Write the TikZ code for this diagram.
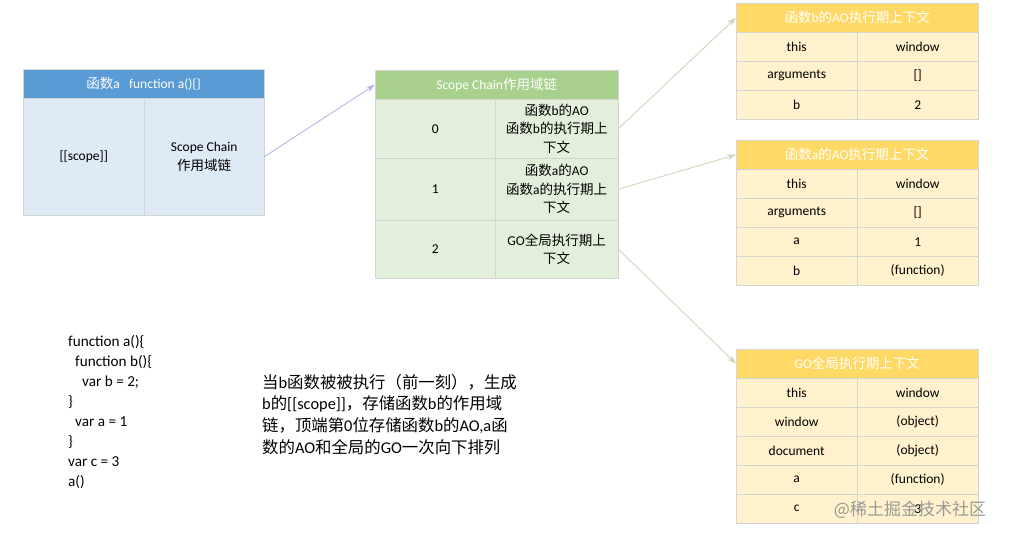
\documentclass[tikz,border=0pt]{standalone}
\usepackage{fontspec}
\setmainfont{Carlito}
\newfontfamily\cjk{Noto Sans CJK SC}
\newcommand\zh[1]{{\cjk #1}}
\usetikzlibrary{arrows.meta}

\definecolor{blueHd}{HTML}{5B9BD5}
\definecolor{blueBg}{HTML}{DEEAF6}
\definecolor{greenHd}{HTML}{A9D18E}
\definecolor{greenBg}{HTML}{E2EFDA}
\definecolor{yellowHd}{HTML}{FFD966}
\definecolor{yellowBg}{HTML}{FFF2CC}
\definecolor{arrPurple}{HTML}{B4B6E6}
\definecolor{arrGreen}{HTML}{C9D9B9}

\tikzset{
  cell/.style={draw=black!17, anchor=north west, inner sep=0pt, align=center,
    font=\fontsize{13.5}{18.5}\selectfont, minimum width=121pt, minimum height=29pt},
  hdr/.style={cell, text=white, minimum width=242pt},
  link/.style={-{Stealth[length=9pt,width=6pt]}, line width=0.9pt}
}

\begin{document}
\begin{tikzpicture}[x=1pt,y=-1pt]
  \useasboundingbox (0,0) rectangle (1009,538);

  % Fonction a
  \node[hdr, fill=blueHd, minimum width=241pt] (fnA) at (23,69) {\zh{函数}a\ \ \ function a()\{\}};
  \node[cell, fill=blueBg, minimum height=117pt] (fnAScope) at (23,98) {[[scope]]};
  \node[cell, fill=blueBg, minimum width=120pt, minimum height=117pt] (fnAChain) at (144,98) {Scope Chain\\\zh{作用域链}};

  % Chaine de portee
  \node[hdr, fill=greenHd, minimum width=243pt] (sc) at (375,70) {Scope Chain\zh{作用域链}};
  \node[cell, fill=greenBg, minimum width=120pt, minimum height=59pt] (sc0) at (375,99) {0};
  \node[cell, fill=greenBg, minimum width=123pt, minimum height=59pt] (sc0v) at (495,99) {\zh{函数}b\zh{的}AO\\\zh{函数}b\zh{的执行期上}\\\zh{下文}};
  \node[cell, fill=greenBg, minimum width=120pt, minimum height=62pt] (sc1) at (375,158) {1};
  \node[cell, fill=greenBg, minimum width=123pt, minimum height=62pt] (sc1v) at (495,158) {\zh{函数}a\zh{的}AO\\\zh{函数}a\zh{的执行期上}\\\zh{下文}};
  \node[cell, fill=greenBg, minimum width=120pt, minimum height=58pt] (sc2) at (375,220) {2};
  \node[cell, fill=greenBg, minimum width=123pt, minimum height=58pt] (sc2v) at (495,220) {GO\zh{全局执行期上}\\\zh{下文}};

  % Contexte de b
  \node[hdr, fill=yellowHd] (aoB) at (736,3) {\zh{函数}b\zh{的}AO\zh{执行期上下文}};
  \foreach \k/\v [count=\i from 0] in {this/window, arguments/[], b/2} {
    \node[cell, fill=yellowBg] (aoB-\i-k) at (736,{32+29*\i}) {\k};
    \node[cell, fill=yellowBg] (aoB-\i-v) at (857,{32+29*\i}) {\v};
  }

  % Contexte de a
  \node[hdr, fill=yellowHd] (aoA) at (736,140) {\zh{函数}a\zh{的}AO\zh{执行期上下文}};
  \foreach \k/\v [count=\i from 0] in {this/window, arguments/[], a/1, b/(function)} {
    \node[cell, fill=yellowBg] (aoA-\i-k) at (736,{169+29*\i}) {\k};
    \node[cell, fill=yellowBg] (aoA-\i-v) at (857,{169+29*\i}) {\v};
  }

  % Contexte global
  \node[hdr, fill=yellowHd] (go) at (736,349) {GO\zh{全局执行期上下文}};
  \foreach \k/\v [count=\i from 0] in {this/window, window/(object), document/(object), a/(function), c/3} {
    \node[cell, fill=yellowBg] (go-\i-k) at (736,{378+29*\i}) {\k};
    \node[cell, fill=yellowBg] (go-\i-v) at (857,{378+29*\i}) {\v};
  }

  % Fleches
  \draw[link, arrPurple] (fnAChain.east) -- (sc.west);
  \draw[link, arrGreen] (sc0v.east) -- (aoB.west);
  \draw[link, arrGreen] (sc1v.east) -- (aoA.west);
  \draw[link, arrGreen] (sc2v.east) -- (go.west);

  % Code et explication
  \node[anchor=north west, inner sep=0pt, align=left, font=\fontsize{15.2}{20}\selectfont] (code) at (68,335)
    {function a()\{\\\hspace{7pt}function b()\{\\\hspace{14pt}var b = 2;\\\}\\\hspace{7pt}var a = 1\\\}\\var c = 3\\a()};
  \node[anchor=north west, inner sep=0pt, align=left, font=\fontsize{16.4}{21.7}\selectfont] (note) at (262,374)
    {\zh{当}b\zh{函数被被执行（前一刻），生成}\\
     b\zh{的}[[scope]]\zh{，存储函数}b\zh{的作用域}\\
     \zh{链，顶端第}0\zh{位存储函数}b\zh{的}AO,a\zh{函}\\
     \zh{数的}AO\zh{和全局的}GO\zh{一次向下排列}};

  \node[text=black!40, font=\cjk\fontsize{17}{20}\selectfont] (mark) at (910,510) {@稀土掘金技术社区};
\end{tikzpicture}
\end{document}
